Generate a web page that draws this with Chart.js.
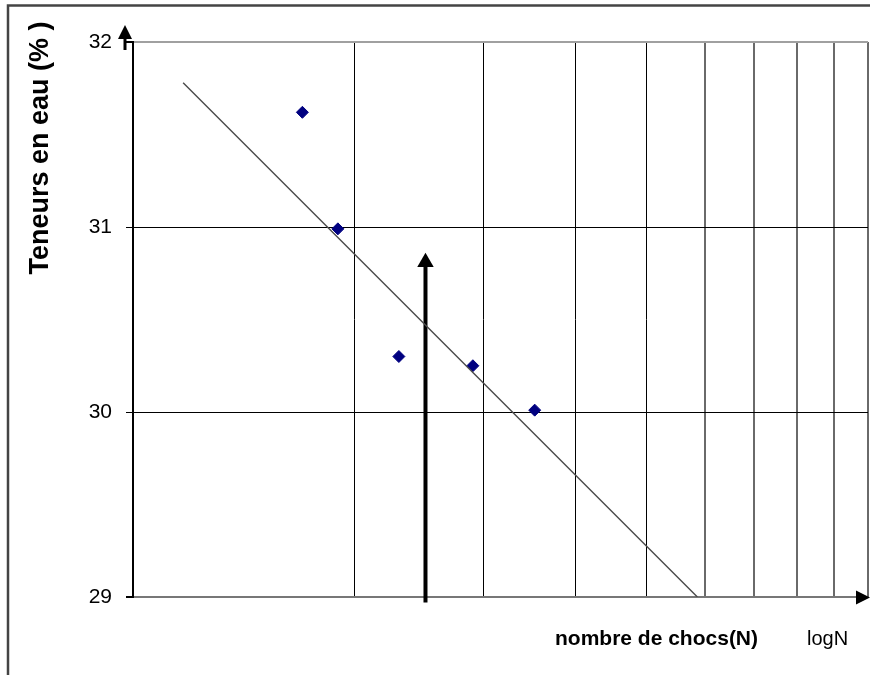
<!DOCTYPE html>
<html>
<head>
<meta charset="utf-8">
<script src="https://cdn.jsdelivr.net/npm/chart.js@4.4.1/dist/chart.umd.min.js"></script>
<style>
  body { margin: 0; background: #fff; }
  canvas { display: block; }
</style>
</head>
<body>
<canvas id="limiteChart" width="870" height="675"></canvas>
<script>
// essai Casagrande : teneur en eau selon le nombre de chocs
const nChocs = [8.5, 9.5, 11.5, 14.5, 17.6];
const teneurs = [31.62, 30.99, 30.30, 30.25, 30.01];

// droite de tendance
const droiteN = [5.85, 29.3];
const droiteW = [31.78, 29.0];

// fleche de lecture
const flecheN = [12.5, 12.5];
const flecheW = [28.97, 30.81];

const xGrid = [5, 10, 15, 20, 25, 30, 35, 40, 45, 50];
const yTicks = [29, 30, 31, 32];

const FONT = "'Liberation Sans', Arial, sans-serif";

function pairs(xs, ys) {
  return xs.map((x, i) => ({x: x, y: ys[i]}));
}

// cadre, fleches des axes et textes
const decor = {
  id: 'decor',
  afterDraw(chart) {
    const ctx = chart.ctx;
    const area = chart.chartArea;
    ctx.save();

    ctx.strokeStyle = '#444';
    ctx.lineWidth = 2.5;
    ctx.strokeRect(8, 5.5, 900, 700);

    // fleche axe Y
    const ax = area.left - 8;
    ctx.strokeStyle = '#000';
    ctx.lineWidth = 3;
    ctx.beginPath();
    ctx.moveTo(ax, 36);
    ctx.lineTo(ax, 50);
    ctx.stroke();
    ctx.fillStyle = '#000';
    ctx.beginPath();
    ctx.moveTo(ax, 25);
    ctx.lineTo(ax - 7, 39);
    ctx.lineTo(ax + 7, 39);
    ctx.closePath();
    ctx.fill();

    // fleche axe X
    const ay = area.bottom + 0.5;
    ctx.beginPath();
    ctx.moveTo(870, ay);
    ctx.lineTo(856, ay - 7);
    ctx.lineTo(856, ay + 7);
    ctx.closePath();
    ctx.fill();

    ctx.fillStyle = '#000';
    ctx.textBaseline = 'alphabetic';
    ctx.textAlign = 'left';
    ctx.font = 'bold 21px ' + FONT;
    ctx.fillText('nombre de chocs(N)', 555, 645);
    ctx.font = '20px ' + FONT;
    ctx.fillText('logN', 807, 645);

    ctx.translate(41, 148);
    ctx.rotate(-Math.PI / 2);
    ctx.textAlign = 'center';
    ctx.textBaseline = 'middle';
    ctx.font = 'bold 27px ' + FONT;
    ctx.fillText('Teneurs en eau (% )', 0, 0);
    ctx.restore();
  }
};

const config = {
  type: 'scatter',
  data: {
    datasets: [
      {
        label: 'droite',
        data: pairs(droiteN, droiteW),
        showLine: true,
        borderColor: '#4a4a4a',
        borderWidth: 1.4,
        pointRadius: 0
      },
      {
        label: 'fleche',
        data: pairs(flecheN, flecheW),
        showLine: true,
        borderColor: '#000',
        borderWidth: 4,
        pointStyle: 'triangle',
        pointRadius: [0, 9.5],
        pointBackgroundColor: '#000',
        pointBorderWidth: 0,
        clip: false
      },
      {
        label: 'mesures',
        data: pairs(nChocs, teneurs),
        pointStyle: 'rectRot',
        pointRadius: 6,
        backgroundColor: '#000080',
        borderColor: '#000080',
        borderWidth: 1
      }
    ]
  },
  options: {
    responsive: false,
    animation: false,
    layout: {
      autoPadding: false,
      padding: {top: 42, right: 2, left: 0, bottom: 0}
    },
    scales: {
      x: {
        type: 'logarithmic',
        min: 5,
        max: 50,
        afterBuildTicks: function(scale) {
          scale.ticks = xGrid.map(v => ({value: v}));
        },
        afterFit: function(scale) {
          scale.height = 78;
          scale.paddingLeft = 0;
          scale.paddingRight = 0;
        },
        ticks: {display: false},
        border: {display: false},
        grid: {
          drawTicks: false,
          color: function(c) {
            const v = c.tick.value;
            if (v === 5) return 'rgba(0,0,0,0)';
            return v >= 30 ? '#6a6a6a' : '#000';
          },
          lineWidth: function(c) {
            return c.tick.value >= 30 ? 2 : 1;
          }
        }
      },
      y: {
        min: 29,
        max: 32,
        afterBuildTicks: function(scale) {
          scale.ticks = yTicks.map(v => ({value: v}));
        },
        afterFit: function(scale) {
          scale.width = 133;
        },
        ticks: {
          color: '#000',
          padding: 14,
          font: {family: FONT, size: 21}
        },
        border: {display: true, color: '#000', width: 2},
        grid: {
          tickLength: 7,
          color: function(c) {
            const v = c.tick.value;
            if (v === 29) return '#777';
            if (v === 32) return '#a0a0a0';
            return '#000';
          },
          tickColor: '#000',
          lineWidth: function(c) {
            const v = c.tick.value;
            return (v === 29 || v === 32) ? 2 : 1;
          }
        }
      }
    },
    plugins: {
      legend: {display: false},
      tooltip: {enabled: false}
    }
  },
  plugins: [decor]
};

const limiteChart = new Chart(
  document.getElementById('limiteChart'),
  config
);
</script>
</body>
</html>
